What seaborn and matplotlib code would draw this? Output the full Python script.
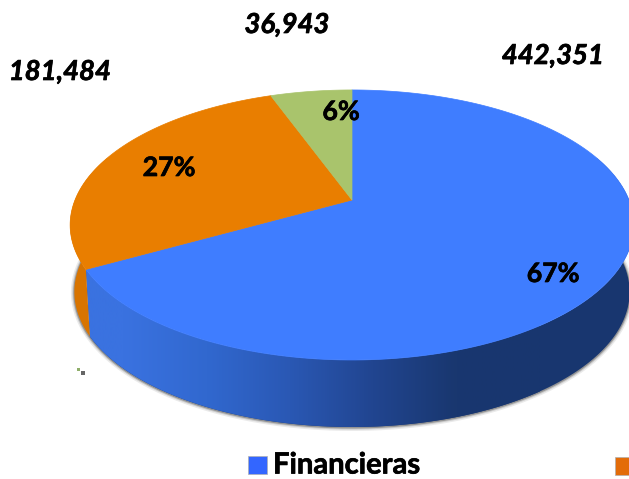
import numpy as np
import pandas as pd
import seaborn as sns
import matplotlib
matplotlib.use('Agg')
import matplotlib.pyplot as plt
import matplotlib.patheffects as pe
from matplotlib.colors import LinearSegmentedColormap
from matplotlib.patches import Polygon, Rectangle
from matplotlib.path import Path
from matplotlib.transforms import Transform

categories = ['Financieras', 'Otras', 'Resto']
values = [442351, 181484, 36943]
value_labels = ['442,351', '181,484', '36,943']
percent_labels = ['67%', '27%', '6%']
colors = ['#3f7dff', '#e97e00', '#a9c46c']

DROP = 67
SHRINK = 0.985
THICK = [pe.withStroke(linewidth=0.5, foreground='black')]


class Tilt(Transform):
    # pie circle -> tilted ellipse in picture pixels, the far side is squeezed
    input_dims = 2
    output_dims = 2
    is_separable = False
    has_inverse = False

    def __init__(self, drop=0.0, shrink=1.0):
        super().__init__()
        self.drop = drop
        self.shrink = shrink

    def transform_non_affine(self, values):
        pts = np.asarray(values, dtype=float)
        w = 1 + 0.185 * pts[:, 1]
        x = 352 + 277 * self.shrink * pts[:, 0] / w
        y = 200 + self.drop - 130.4 * pts[:, 1] / w
        return np.column_stack([x, y])

    def transform_path_non_affine(self, path):
        pts = []
        for curve, code in path.iter_bezier():
            pts.extend(curve(np.linspace(0, 1, 24)))
        return Path(self.transform_non_affine(np.array(pts)), closed=True)


def arc(theta1, theta2, tilt):
    t = np.radians(np.linspace(theta1, theta2, 200))
    return tilt.transform_non_affine(np.column_stack([np.cos(t), np.sin(t)]))


def side_shape(theta1, theta2):
    top = arc(theta1, theta2, Tilt())
    low = arc(theta1, theta2, Tilt(DROP, SHRINK))
    return np.vstack([top, low[::-1]])


sns.set_style('white')
df = pd.DataFrame({'categoria': categories, 'valor': values})

fig = plt.figure(figsize=(6.29, 4.79), dpi=100)
ax = fig.add_axes([0, 0, 1, 1])

wedges, _ = ax.pie(df['valor'], colors=colors, startangle=90, counterclock=False)
for w, c in zip(wedges, colors):
    w.set_transform(Tilt() + ax.transData)
    w.set_edgecolor(c)
    w.set_linewidth(0.5)
    w.set_zorder(5)

blue, orange = wedges[0], wedges[1]

# soft grey edge under the disc
low_edge = arc(-200, 20, Tilt(DROP, SHRINK))
for lw, a in [(5, 0.12), (3, 0.22), (1.5, 0.45)]:
    ax.plot(low_edge[:, 0], low_edge[:, 1] + 0.5, color='#555555', lw=lw, alpha=a, zorder=1)

# side of the disc: blue gets a left to right shade, orange a flat darker tone
shade = LinearSegmentedColormap.from_list(
    'side', ['#3a72e0', '#3a72e0', '#3168cf', '#2a58b4', '#214590', '#19376f', '#18366f'])
blue_side = Polygon(side_shape(blue.theta1, 20), closed=True, fc='#18366f', ec='none', zorder=2)
ax.add_patch(blue_side)
img = ax.imshow(np.linspace(0, 1, 256).reshape(1, -1), cmap=shade, aspect='auto',
                extent=[40, 540, 479, 0], zorder=3)
img.set_clip_path(blue_side)
ax.add_patch(Polygon(side_shape(-200, orange.theta2), closed=True,
                     fc='#d87400', ec='none', zorder=4))

ax.set_aspect('auto')
ax.set_xlim(0, 629)
ax.set_ylim(479, 0)
ax.axis('off')

# value labels over the slices
for txt, (x, y) in zip(value_labels, [(553, 56), (60, 72), (287, 25)]):
    ax.text(x, y, txt, family='Lato', weight='bold', style='italic', fontsize=19.8,
            ha='center', va='center', color='black', zorder=6, path_effects=THICK)
for txt, (x, y) in zip(percent_labels, [(553, 274), (169, 168), (341, 112)]):
    ax.text(x, y, txt, family='Lato', weight='bold', fontsize=19.2,
            ha='center', va='center', color='black', zorder=6, path_effects=THICK)

# legend, the second entry runs off the picture
ax.add_patch(Rectangle((248, 456), 19, 18, fc='#3366ff', ec='#b0b0b0', lw=0.5, zorder=6))
ax.add_patch(Rectangle((615, 457), 19, 18, fc='#e36c09', ec='#b0b0b0', lw=0.5, zorder=6))
ax.text(273, 465.5, categories[0], family='Lato', weight='bold', fontsize=21,
        ha='left', va='center', color='black', zorder=6, path_effects=THICK)

# little speck left of the disc
ax.add_patch(Rectangle((77, 368), 3, 3, fc='#8fae6a', ec='none', zorder=6))
ax.add_patch(Rectangle((81, 371), 4, 4, fc='#666666', ec='none', zorder=6))

fig.savefig('out.png', dpi=100)
